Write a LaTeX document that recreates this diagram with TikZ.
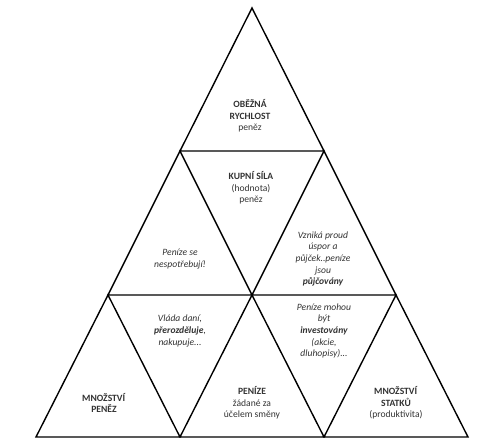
\documentclass[tikz,border=0pt]{standalone}
\usepackage{fontspec}
\setmainfont{Carlito}
\usetikzlibrary{positioning}

\begin{document}
\begin{tikzpicture}[
    x=1pt, y=-1pt,
    every node/.style={font=\fontsize{9.6}{11.7}\selectfont, text=black!80, align=center, inner sep=0pt},
    edge/.style={draw=black, line width=1.4pt, line join=miter},
    note/.style={font=\fontsize{9.6}{11.7}\selectfont\itshape}
]
\useasboundingbox (0,0) rectangle (490,447);
% corners of the big triangle and its rows
\coordinate (top) at (252,8);
\coordinate (l1) at (180,151);
\coordinate (r1) at (324,151);
\coordinate (l2) at (108,295);
\coordinate (m2) at (252,295);
\coordinate (r2) at (396,295);
\coordinate (l3) at (36,437);
\coordinate (m3a) at (180,437);
\coordinate (m3b) at (324,437);
\coordinate (r3) at (468,437);
% the six upward triangles
\draw[edge] (top) -- (l1) -- (r1) -- cycle;
\draw[edge] (l1) -- (l2) -- (m2) -- cycle;
\draw[edge] (r1) -- (m2) -- (r2) -- cycle;
\draw[edge] (l2) -- (l3) -- (m3a) -- cycle;
\draw[edge] (m2) -- (m3a) -- (m3b) -- cycle;
\draw[edge] (r2) -- (m3b) -- (r3) -- cycle;
% texts
\node (velocity) at (250,116) {\textbf{OBĚŽNÁ}\\\textbf{RYCHLOST}\\peněz};
\node (power) at (251,188) {\textbf{KUPNÍ SÍLA}\\(hodnota)\\peněz};
\node[note] (spend) at (180,259) {Peníze se\\nespotřebují!};
\node[note] (savings) at (323,259) {Vzniká proud\\úspor a\\půjček..peníze\\jsou\\\textbf{půjčovány}};
\node[note] (state) at (180,331) {Vláda daní,\\\textbf{přerozděluje},\\nakupuje...};
\node[note] (invest) at (324,331) {Peníze mohou\\být\\\textbf{investovány}\\(akcie,\\dluhopisy)...};
\node (quantity) at (104,403) {\textbf{MNOŽSTVÍ}\\\textbf{PENĚZ}};
\node (money) at (252,403) {\textbf{PENÍZE}\\žádané za\\účelem směny};
\node (goods) at (396,403) {\textbf{MNOŽSTVÍ}\\\textbf{STATKŮ}\\(produktivita)};
\end{tikzpicture}
\end{document}
